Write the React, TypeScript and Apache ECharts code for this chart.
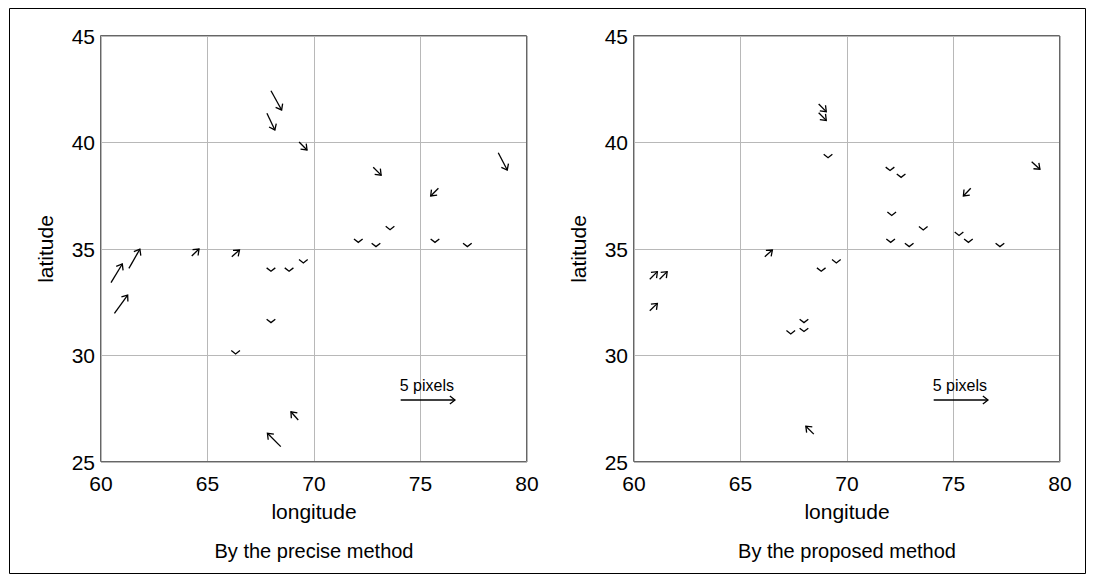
import React, { useEffect, useRef } from "react";
import * as echarts from "echarts";

// Axis ranges / ticks
const X_MIN = 60;
const X_MAX = 80;
const Y_MIN = 25;
const Y_MAX = 45;
const TICK_STEP = 5;

const X_NAME = "longitude";
const Y_NAME = "latitude";
const PANEL_TITLES = ["By the precise method", "By the proposed method"];

// [longitude, latitude, u, v]  (u, v in image pixels; tiny v = zero-length arrow)
const PRECISE_ARROWS: number[][] = [
  [67.98, 42.43, 0.98, -1.77],
  [67.79, 41.37, 0.73, -1.53],
  [69.3, 40.02, 0.73, -0.73],
  [72.78, 38.84, 0.73, -0.73],
  [78.65, 39.52, 0.83, -1.59],
  [75.84, 37.85, -0.71, -0.71],
  [60.47, 33.42, 1.04, 1.72],
  [61.31, 34.09, 1.01, 1.77],
  [60.63, 31.98, 1.22, 1.68],
  [64.26, 34.67, 0.67, 0.64],
  [66.14, 34.64, 0.71, 0.61],
  [69.26, 26.97, -0.67, 0.76],
  [68.44, 25.72, -1.23, 1.23],
  [73.57, 35.93, 0, -0.05],
  [72.08, 35.34, 0, -0.05],
  [72.91, 35.14, 0, -0.05],
  [75.68, 35.34, 0, -0.05],
  [77.2, 35.14, 0, -0.05],
  [67.98, 33.98, 0, -0.05],
  [68.83, 33.98, 0, -0.05],
  [69.5, 34.37, 0, -0.05],
  [67.98, 31.57, 0, -0.05],
  [66.32, 30.1, 0, -0.05],
];

const PROPOSED_ARROWS: number[][] = [
  [68.67, 41.81, 0.7, -0.71],
  [68.67, 41.4, 0.7, -0.71],
  [69.11, 39.31, 0, -0.05],
  [72.02, 38.71, 0, -0.05],
  [72.54, 38.39, 0, -0.05],
  [72.1, 36.6, 0, -0.05],
  [73.58, 35.92, 0, -0.05],
  [72.05, 35.34, 0, -0.05],
  [72.92, 35.14, 0, -0.05],
  [75.26, 35.66, 0, -0.05],
  [75.7, 35.34, 0, -0.05],
  [77.18, 35.14, 0, -0.05],
  [78.67, 39.1, 0.76, -0.7],
  [75.81, 37.85, -0.68, -0.71],
  [66.14, 34.64, 0.7, 0.61],
  [60.74, 33.58, 0.7, 0.7],
  [61.2, 33.58, 0.7, 0.7],
  [60.74, 32.1, 0.7, 0.68],
  [68.79, 33.98, 0, -0.05],
  [69.5, 34.37, 0, -0.05],
  [67.98, 31.57, 0, -0.05],
  [67.98, 31.15, 0, -0.05],
  [67.36, 31.04, 0, -0.05],
  [68.44, 26.31, -0.73, 0.73],
];

// scale key arrow: [longitude, latitude, u, v]
const KEY_ARROW: number[][] = [[74.07, 27.91, 5, 0]];
const KEY_LABEL = "5 pixels";

const FONT = "'Liberation Sans', Arial, Helvetica, sans-serif";
const PX_PER_UNIT = 10.86;
const HEAD_LEN = 6.5;
const HEAD_ANGLE = (38 * Math.PI) / 180;
const CHEV_LEN = 5.5;
const CHEV_ANGLE = (52 * Math.PI) / 180;
const LINE_W = 1.3;

function arrowChildren(api: any) {
  const x = api.value(0);
  const y = api.value(1);
  const u = api.value(2);
  const v = api.value(3);
  const p = api.coord([x, y]);
  const dx = u * PX_PER_UNIT;
  const dy = -v * PX_PER_UNIT;
  const len = Math.hypot(dx, dy) || 1e-6;
  const ux = dx / len;
  const uy = dy / len;
  const tip = [p[0] + dx, p[1] + dy];
  const chevron = len < 2;
  const a = chevron ? CHEV_ANGLE : HEAD_ANGLE;
  const L = chevron ? CHEV_LEN : HEAD_LEN;
  const bx = -ux;
  const by = -uy;
  const rot = (ang: number) => [
    bx * Math.cos(ang) - by * Math.sin(ang),
    bx * Math.sin(ang) + by * Math.cos(ang),
  ];
  const r1 = rot(a);
  const r2 = rot(-a);
  const children: any[] = [];
  if (!chevron) {
    children.push({
      type: "line",
      shape: { x1: p[0], y1: p[1], x2: tip[0], y2: tip[1] },
      style: { stroke: "#000", lineWidth: LINE_W },
    });
  }
  children.push({
    type: "polyline",
    shape: {
      points: [
        [tip[0] + r1[0] * L, tip[1] + r1[1] * L],
        tip,
        [tip[0] + r2[0] * L, tip[1] + r2[1] * L],
      ],
    },
    style: { stroke: "#000", fill: "none", lineWidth: LINE_W },
  });
  return { children, p };
}

function renderArrow(_params: any, api: any) {
  const { children } = arrowChildren(api);
  return { type: "group", children };
}

function renderKey(_params: any, api: any) {
  const { children, p } = arrowChildren(api);
  children.push({
    type: "text",
    style: {
      text: KEY_LABEL,
      x: p[0] - 1,
      y: p[1] - 15,
      align: "left",
      verticalAlign: "middle",
      fontSize: 16,
      fontFamily: FONT,
      fill: "#000",
    },
  });
  return { type: "group", children };
}

const GRIDS = [
  { left: 101, top: 36, width: 426, height: 426 },
  { left: 634, top: 36, width: 426, height: 426 },
];

export default function App() {
  const ref = useRef<HTMLDivElement>(null);

  useEffect(() => {
    if (!ref.current) return;
    const chart = echarts.init(ref.current, undefined, { renderer: "svg" });

    const xAxis = GRIDS.map((_, i) => ({
      type: "value",
      gridIndex: i,
      min: X_MIN,
      max: X_MAX,
      interval: TICK_STEP,
      axisLine: { show: false },
      axisTick: { show: false },
      axisLabel: { fontSize: 21, color: "#000", margin: 11, fontFamily: FONT },
      splitLine: { show: true, lineStyle: { color: "#b8b8b8", width: 1 } },
      name: X_NAME,
      nameLocation: "middle",
      nameGap: 39,
      nameTextStyle: { fontSize: 21, color: "#000", fontFamily: FONT },
    }));
    const yAxis = GRIDS.map((_, i) => ({
      type: "value",
      gridIndex: i,
      min: Y_MIN,
      max: Y_MAX,
      interval: TICK_STEP,
      axisLine: { show: false },
      axisTick: { show: false },
      axisLabel: { fontSize: 21, color: "#000", margin: 6, fontFamily: FONT },
      splitLine: { show: true, lineStyle: { color: "#b8b8b8", width: 1 } },
      name: Y_NAME,
      nameLocation: "middle",
      nameGap: 45,
      nameTextStyle: { fontSize: 21, color: "#000", fontFamily: FONT },
    }));

    const datasets = [PRECISE_ARROWS, PROPOSED_ARROWS];
    const series: any[] = [];
    datasets.forEach((d, i) => {
      series.push({
        type: "custom",
        xAxisIndex: i,
        yAxisIndex: i,
        renderItem: renderArrow,
        encode: { x: 0, y: 1 },
        data: d,
        clip: false,
        z: 5,
      });
      series.push({
        type: "custom",
        xAxisIndex: i,
        yAxisIndex: i,
        renderItem: renderKey,
        encode: { x: 0, y: 1 },
        data: KEY_ARROW,
        clip: false,
        z: 5,
      });
    });

    const graphic: any[] = [
      {
        type: "rect",
        shape: { x: 9.5, y: 8.5, width: 1076, height: 565 },
        style: { fill: "none", stroke: "#000", lineWidth: 1 },
        z: 1,
        silent: true,
      },
    ];
    GRIDS.forEach((g, i) => {
      graphic.push({
        type: "rect",
        shape: { x: g.left - 0.5, y: g.top - 0.5, width: g.width, height: g.height },
        style: { fill: "none", stroke: "#666", lineWidth: 1 },
        z: 10,
        silent: true,
      });
      graphic.push({
        type: "text",
        x: g.left + g.width / 2,
        y: 551,
        style: {
          text: PANEL_TITLES[i],
          align: "center",
          verticalAlign: "middle",
          fontSize: 20,
          fontFamily: FONT,
          fill: "#000",
        },
        z: 10,
        silent: true,
      });
    });

    chart.setOption({
      animation: false,
      backgroundColor: "#fff",
      textStyle: { fontFamily: FONT },
      grid: GRIDS.map((g) => ({ ...g, containLabel: false })),
      xAxis,
      yAxis,
      series,
      graphic,
    });

    return () => chart.dispose();
  }, []);

  return (
    <div
      ref={ref}
      style={{ position: "fixed", left: 0, top: 0, width: 1093, height: 581 }}
    />
  );
}
